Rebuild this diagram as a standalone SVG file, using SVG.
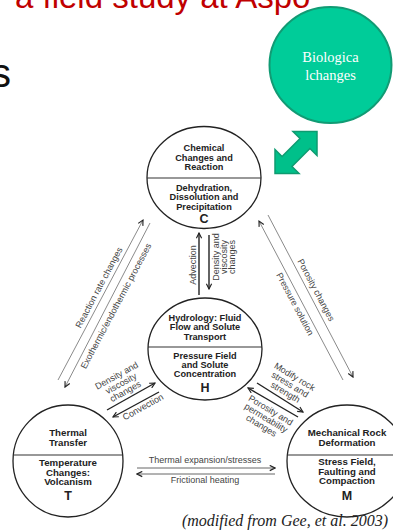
<svg xmlns="http://www.w3.org/2000/svg" width="393" height="531" viewBox="0 0 393 531">
<style>
.node{fill:#fff;stroke:#222;stroke-width:1.3}
.div{stroke:#333;stroke-width:1.1}
.t{font-family:"Liberation Sans",Arial,sans-serif;font-weight:bold;fill:#222;text-anchor:middle}
.c9{font-size:9.2px}
.c10{font-size:9.7px}
.big{font-size:12.5px}
.lab{font-family:"Liberation Sans",Arial,sans-serif;font-size:9px;fill:#444;text-anchor:middle}
.ln{fill:none;stroke:#8a8a8a;stroke-width:1}
.dk{fill:none;stroke:#222;stroke-width:1.4}
.gr{fill:none;stroke:#666;stroke-width:1}
</style>
<defs>
<marker id="ah" viewBox="0 0 8 8" refX="7" refY="4" markerWidth="7" markerHeight="7" orient="auto" markerUnits="userSpaceOnUse">
<path d="M1,1 L7,4 L1,7" fill="none" stroke="#222" stroke-width="1.3"/>
</marker>
</defs>
<rect width="393" height="531" fill="#fff"/>
<text x="15" y="8" font-family="'Liberation Sans',Arial,sans-serif" font-size="33" fill="#C00000">a field study at Aspo</text>
<text x="11" y="87" font-family="'Liberation Sans',Arial,sans-serif" font-size="40" fill="#111" text-anchor="end">s</text>
<g id="bio">
<ellipse cx="330.5" cy="65" rx="61" ry="58" fill="#00CC99" stroke="#119B74" stroke-width="2"/>
<text x="330.5" y="62" font-family="'Liberation Serif','Times New Roman',serif" font-size="14.5" fill="#fff" text-anchor="middle">Biologica</text>
<text x="330.5" y="80" font-family="'Liberation Serif','Times New Roman',serif" font-size="14.5" fill="#fff" text-anchor="middle">lchanges</text>
</g>
<g id="greenArrow">
<polygon transform="translate(296,152.5) rotate(-45)" points="-29.7,0 -12.7,-17 -12.7,-7 12.7,-7 12.7,-17 29.7,0 12.7,17 12.7,7 -12.7,7 -12.7,17" fill="#00C08A" stroke="#0E9B70" stroke-width="1.5" stroke-linejoin="miter"/>
</g>
<g id="connectors">
<path class="ln" d="M58,380 L143,220" marker-end="url(#ah)"/>
<path class="ln" d="M150,223 L65,387" marker-end="url(#ah)"/>
<path class="ln" d="M343,380 L259,221" marker-end="url(#ah)"/>
<path class="ln" d="M268,215 L353,377" marker-end="url(#ah)"/>
<path class="dk" d="M199,295 L199,233" marker-end="url(#ah)"/>
<path class="dk" d="M209,235 L209,289" marker-end="url(#ah)"/>
<path class="dk" d="M107,410 L155,383" marker-end="url(#ah)"/>
<path class="dk" d="M159,392 L113,417" marker-end="url(#ah)"/>
<path class="dk" d="M257,383 L303,412" marker-end="url(#ah)"/>
<path class="dk" d="M298,417 L248,388" marker-end="url(#ah)"/>
<path class="gr" d="M137,468 L275,468" marker-end="url(#ah)"/>
<path class="gr" d="M275,474 L137,474" marker-end="url(#ah)"/>
<text class="lab" transform="translate(99,287.5) rotate(-62)" y="3">Reaction rate changes</text>
<text class="lab" transform="translate(116,306) rotate(-62)" y="3">Exothermic/endothermic processes</text>
<text class="lab" transform="translate(316,290) rotate(62)" y="3">Porosity changes</text>
<text class="lab" transform="translate(295,304) rotate(62)" y="3">Pressure solution</text>
<text class="lab" transform="translate(193,265) rotate(-90)" y="3">Advection</text>
<text class="lab" transform="translate(224,257) rotate(-90)"><tspan x="0" y="-5">Density and</tspan><tspan x="0" y="3">viscosity</tspan><tspan x="0" y="11">changes</tspan></text>
<text class="lab" transform="translate(121,383.5) rotate(-29)"><tspan x="0" y="-6">Density and</tspan><tspan x="0" y="3">viscosity</tspan><tspan x="0" y="12">changes</tspan></text>
<text class="lab" transform="translate(143,407) rotate(-29)" y="3">Convection</text>
<text class="lab" transform="translate(290,384.5) rotate(31)"><tspan x="0" y="-6">Modify rock</tspan><tspan x="0" y="3">stress and</tspan><tspan x="0" y="12">strength</tspan></text>
<text class="lab" transform="translate(266,418) rotate(31)"><tspan x="0" y="-6">Porosity and</tspan><tspan x="0" y="3">permeability</tspan><tspan x="0" y="12">changes</tspan></text>
<text class="lab" x="205" y="463">Thermal expansion/stresses</text>
<text class="lab" x="205" y="483">Frictional heating</text>
</g>
<g id="nodeC">
<ellipse class="node" cx="204" cy="177.5" rx="57" ry="51"/>
<line class="div" x1="147" y1="178" x2="261" y2="178"/>
<text class="t c9" x="204" y="151.3">Chemical</text>
<text class="t c9" x="204" y="160.8">Changes and</text>
<text class="t c9" x="204" y="170.3">Reaction</text>
<text class="t c9" x="204" y="190.5">Dehydration,</text>
<text class="t c9" x="204" y="200.3">Dissolution and</text>
<text class="t c9" x="204" y="210.1">Precipitation</text>
<text class="t big" x="204" y="222.5">C</text>
</g>
<g id="nodeH">
<ellipse class="node" cx="205" cy="349" rx="57" ry="51"/>
<line class="div" x1="148" y1="347" x2="262" y2="347"/>
<text class="t c9" x="205" y="320.5">Hydrology: Fluid</text>
<text class="t c9" x="205" y="330">Flow and Solute</text>
<text class="t c9" x="205" y="339.5">Transport</text>
<text class="t c9" x="205" y="359.3">Pressure Field</text>
<text class="t c9" x="205" y="368.3">and Solute</text>
<text class="t c9" x="205" y="377.3">Concentration</text>
<text class="t big" x="205" y="391.5">H</text>
</g>
<g id="nodeT">
<ellipse class="node" cx="68" cy="461" rx="55" ry="56"/>
<line class="div" x1="13" y1="455" x2="123" y2="455"/>
<text class="t c10" x="68" y="436">Thermal</text>
<text class="t c10" x="68" y="446">Transfer</text>
<text class="t c10" x="68" y="466">Temperature</text>
<text class="t c10" x="68" y="475.5">Changes:</text>
<text class="t c10" x="68" y="485">Volcanism</text>
<text class="t big" x="68" y="499.5">T</text>
</g>
<g id="nodeM">
<ellipse class="node" cx="347" cy="461" rx="60" ry="56"/>
<line class="div" x1="287" y1="455" x2="407" y2="455"/>
<text class="t c10" x="347" y="436">Mechanical Rock</text>
<text class="t c10" x="347" y="446">Deformation</text>
<text class="t c10" x="347" y="465">Stress Field,</text>
<text class="t c10" x="347" y="474.5">Faulting and</text>
<text class="t c10" x="347" y="484">Compaction</text>
<text class="t big" x="347" y="499.5">M</text>
</g>
<text x="388" y="526" font-family="'Liberation Serif','Times New Roman',serif" font-style="italic" font-size="16" fill="#222" text-anchor="end">(modified from Gee, et al. 2003)</text>
</svg>
